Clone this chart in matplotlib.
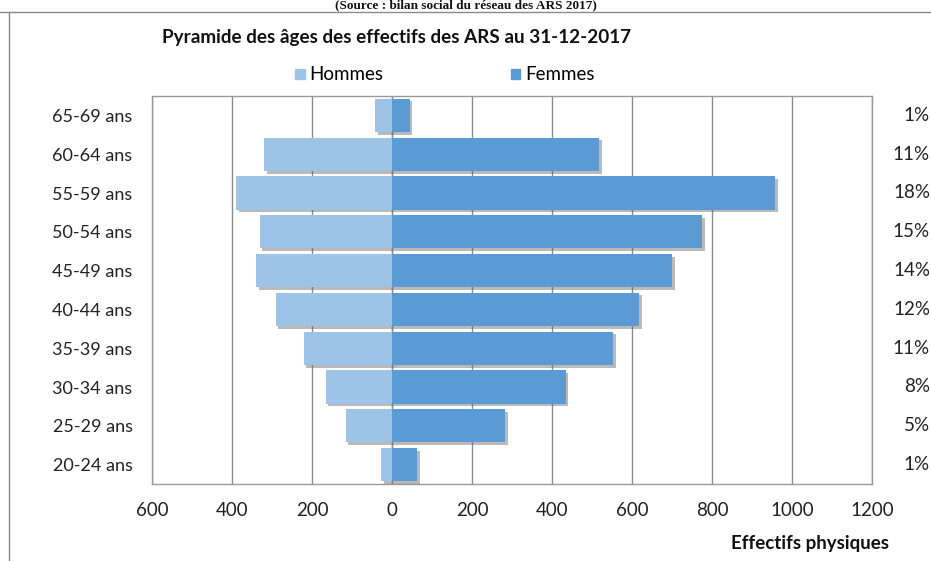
import matplotlib.pyplot as plt
import matplotlib.patheffects as pe
from matplotlib.patches import Patch
from matplotlib.lines import Line2D

# Données
tranches = ['20-24 ans', '25-29 ans', '30-34 ans', '35-39 ans', '40-44 ans',
            '45-49 ans', '50-54 ans', '55-59 ans', '60-64 ans', '65-69 ans']
hommes = [28, 116, 166, 221, 291, 339, 331, 389, 320, 43]
femmes = [63, 282, 434, 553, 617, 700, 776, 957, 517, 44]
parts = ['1%', '5%', '8%', '11%', '12%', '14%', '15%', '18%', '11%', '1%']
xticks = [-600, -400, -200, 0, 200, 400, 600, 800, 1000, 1200]

c_h = '#9dc3e6'
c_f = '#5b9bd5'
police = ['Lato', 'DejaVu Sans']


def main():
    plt.rcParams['font.family'] = police
    fig = plt.figure(figsize=(9.31, 5.61), dpi=100)
    ax = fig.add_axes([152 / 931, 1 - 484 / 561, 720 / 931, 388 / 561])

    y = list(range(len(tranches)))
    ombre = [pe.SimplePatchShadow(offset=(2, -2), shadow_rgbFace='#666666', alpha=0.45), pe.Normal()]
    bh = ax.barh(y, [-v for v in hommes], height=0.86, color=c_h, zorder=3)
    bf = ax.barh(y, femmes, height=0.86, color=c_f, zorder=3)
    for b in list(bh) + list(bf):
        b.set_path_effects(ombre)

    ax.set_xlim(-600, 1200)
    ax.set_ylim(-0.5, len(tranches) - 0.5)
    ax.set_xticks(xticks)
    ax.set_xticklabels([str(abs(v)) for v in xticks], fontsize=13.5)
    ax.set_yticks(y)
    ax.set_yticklabels(tranches, fontsize=13)
    ax.tick_params(axis='both', length=0, colors='#222222')
    ax.tick_params(axis='y', pad=14)
    ax.tick_params(axis='x', pad=13)
    ax.grid(axis='x', color='#8c8c8c', linewidth=1, zorder=0)
    ax.axvline(0, color='#8c8c8c', linewidth=1, zorder=1)
    for s in ax.spines.values():
        s.set_color('#9a9a9a')
        s.set_linewidth(1)

    # pourcentages à droite
    for yi, p in zip(y, parts):
        ax.text(1.0 + 58 / 720, yi, p, transform=ax.get_yaxis_transform(),
                fontsize=13.5, ha='right', va='center', color='#222222', clip_on=False)

    fig.text(162 / 931, 1 - 38 / 561, 'Pyramide des âges des effectifs des ARS au 31-12-2017',
             fontsize=13.6, fontweight='bold', ha='left', va='center', color='#111111')
    fig.text(889 / 931, 1 - 544 / 561, 'Effectifs physiques', fontsize=13.5,
             fontweight='bold', ha='right', va='center', color='#111111')
    fig.text(0.5, 1 - 11 / 561, '(Source : bilan social du réseau des ARS 2017)',
             family=['Liberation Serif', 'DejaVu Serif'], fontsize=9.5, fontweight='bold',
             ha='center', va='bottom', color='#111111')

    poignees = [Patch(color=c_h), Patch(color=c_f)]
    fig.legend(poignees, ['Hommes', 'Femmes'], loc='center', ncol=2,
               bbox_to_anchor=(445 / 931, 1 - 75 / 561), frameon=False, fontsize=13.5,
               handlelength=0.5, handleheight=0.5, handletextpad=0.25, columnspacing=6.8)

    # cadres du document
    fig.add_artist(Line2D([0, 1], [1 - 12 / 561, 1 - 12 / 561], color='#8a8a8a', linewidth=1))
    fig.add_artist(Line2D([9 / 931, 9 / 931], [0, 1 - 12 / 561], color='#8a8a8a', linewidth=1))

    fig.savefig('out.png', dpi=100)


if __name__ == '__main__':
    main()
